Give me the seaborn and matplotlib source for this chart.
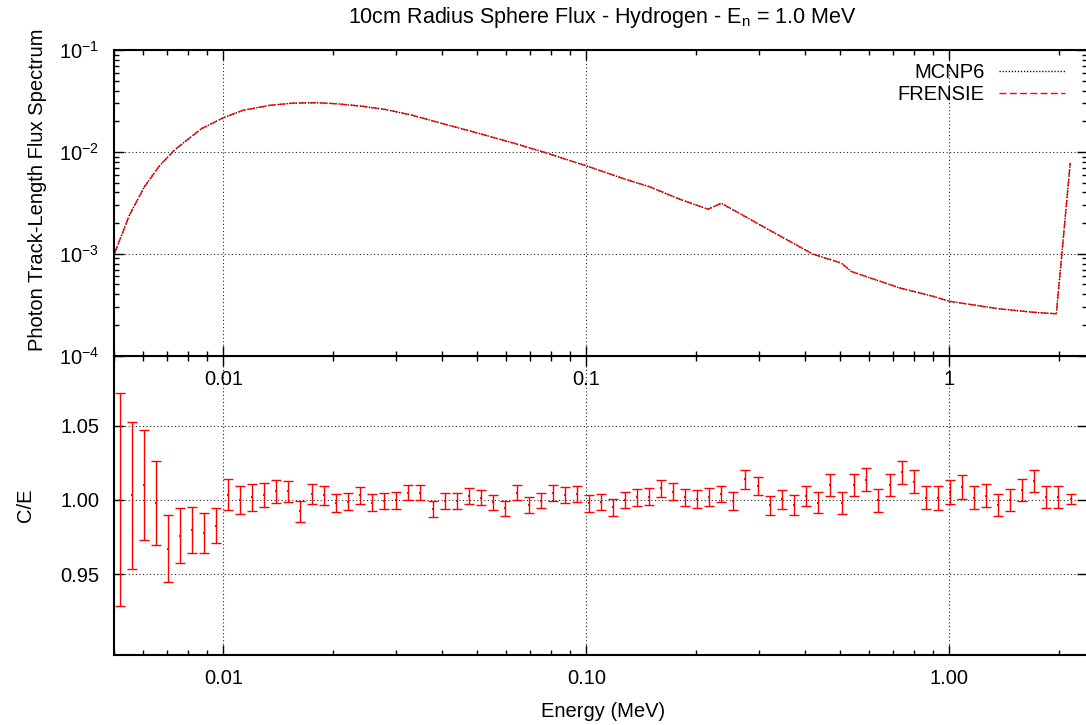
import numpy as np
import pandas as pd
import matplotlib
matplotlib.use("Agg")
import matplotlib.pyplot as plt
import seaborn as sns
from matplotlib.ticker import FixedLocator, FixedFormatter, LogLocator, NullFormatter, NullLocator

# ---------------- data ----------------
flux_energy = [0.00502, 0.005518, 0.006069, 0.006677, 0.007341, 0.008075, 0.00871, 0.0100,
               0.01132, 0.01341, 0.01555, 0.01804, 0.02048, 0.02425,
               0.0281, 0.0330, 0.04113, 0.0508, 0.0628, 0.0760, 0.1000, 0.1259, 0.1494,
               0.1810, 0.2163, 0.2355, 0.2644, 0.3130, 0.4210, 0.5040, 0.5370, 0.5900,
               0.7300, 0.9015, 1.000, 1.376, 1.700, 1.972, 2.154]
mcnp6_flux = [1.016e-3, 2.41e-3, 4.57e-3, 7.33e-3, 1.045e-2, 1.368e-2, 1.69e-2, 2.16e-2,
              2.56e-2, 2.86e-2, 3.01e-2, 3.04e-2, 2.97e-2, 2.80e-2,
              2.60e-2, 2.30e-2, 1.854e-2, 1.513e-2, 1.225e-2, 1.00e-2, 7.30e-3, 5.50e-3,
              4.55e-3, 3.43e-3, 2.74e-3, 3.13e-3, 2.49e-3, 1.78e-3, 9.93e-4, 8.11e-4,
              6.71e-4, 5.98e-4, 4.62e-4, 3.83e-4, 3.42e-4, 2.88e-4, 2.67e-4, 2.58e-4,
              7.81e-3]
frensie_flux = [1.016e-3, 2.41e-3, 4.57e-3, 7.33e-3, 1.045e-2, 1.368e-2, 1.69e-2, 2.16e-2,
                2.56e-2, 2.86e-2, 3.01e-2, 3.04e-2, 2.97e-2, 2.80e-2,
                2.60e-2, 2.30e-2, 1.854e-2, 1.513e-2, 1.225e-2, 1.00e-2, 7.30e-3, 5.50e-3,
                4.55e-3, 3.43e-3, 2.74e-3, 3.13e-3, 2.49e-3, 1.78e-3, 9.93e-4, 8.11e-4,
                6.71e-4, 5.98e-4, 4.62e-4, 3.83e-4, 3.42e-4, 2.88e-4, 2.67e-4, 2.58e-4,
                7.81e-3]

ce_energy = [0.005180, 0.005591, 0.006035, 0.006515, 0.007031, 0.007590, 0.008191, 0.008842, 0.009541, 0.01030,
             0.01112, 0.01200, 0.01295, 0.01398, 0.01508, 0.01628, 0.01757, 0.01897, 0.02047, 0.02210,
             0.02385, 0.02574, 0.02778, 0.02999, 0.03237, 0.03493, 0.03771, 0.04070, 0.04393, 0.04742,
             0.05118, 0.05524, 0.05963, 0.06436, 0.06947, 0.07499, 0.08094, 0.08736, 0.09428, 0.1017,
             0.1098, 0.1185, 0.1279, 0.1381, 0.1490, 0.1608, 0.1736, 0.1874, 0.2023, 0.2183,
             0.2356, 0.2543, 0.2745, 0.2963, 0.3198, 0.3452, 0.3726, 0.4021, 0.4340, 0.4685,
             0.5057, 0.5458, 0.5891, 0.6359, 0.6863, 0.7408, 0.7996, 0.8630, 0.9315, 1.005,
             1.085, 1.171, 1.264, 1.365, 1.473, 1.590, 1.716, 1.852, 1.999, 2.158]
ce_ratio = [1.0002, 1.0031, 1.0099, 0.9978, 0.9673, 0.9758, 0.9798, 0.9780, 0.9827, 1.0036,
            1.0000, 1.0018, 1.0034, 1.0058, 1.0058, 0.9924, 1.0040, 1.0031, 0.9980, 0.9989,
            1.0031, 0.9982, 0.9991, 0.9998, 1.0049, 1.0049, 0.9942, 0.9993, 0.9993, 1.0025,
            1.0016, 0.9984, 0.9944, 1.0049, 0.9966, 0.9996, 1.0045, 1.0031, 1.0038, 0.9978,
            0.9989, 0.9951, 1.0002, 1.0018, 1.0022, 1.0078, 1.0056, 1.0018, 1.0007, 1.0018,
            1.0040, 0.9996, 1.0139, 1.0094, 0.9966, 1.0004, 0.9966, 1.0027, 0.9980, 1.0099,
            0.9980, 1.0099, 1.0137, 0.9998, 1.0101, 1.0186, 1.0123, 1.0016, 1.0011, 1.0056,
            1.0087, 1.0016, 1.0029, 0.9966, 1.0002, 1.0067, 1.0128, 1.0020, 1.0020, 1.0004]
ce_error = [0.0715, 0.0496, 0.0370, 0.0281, 0.0223, 0.0185, 0.0155, 0.0135, 0.0119, 0.0105,
            0.0096, 0.0089, 0.0083, 0.0077, 0.0072, 0.0070, 0.0066, 0.0063, 0.0061, 0.0058,
            0.0056, 0.0055, 0.0055, 0.0056, 0.0052, 0.0052, 0.0054, 0.0053, 0.0053, 0.0053,
            0.0053, 0.0052, 0.0052, 0.0052, 0.0052, 0.0053, 0.0053, 0.0054, 0.0055, 0.0056,
            0.0054, 0.0056, 0.0055, 0.0056, 0.0057, 0.0057, 0.0059, 0.0059, 0.0059, 0.0061,
            0.0057, 0.0061, 0.0062, 0.0063, 0.0064, 0.0065, 0.0068, 0.0068, 0.0071, 0.0073,
            0.0074, 0.0075, 0.0075, 0.0076, 0.0077, 0.0078, 0.0078, 0.0078, 0.0080, 0.0081,
            0.0081, 0.0080, 0.0077, 0.0077, 0.0075, 0.0075, 0.0073, 0.0071, 0.0071, 0.0033]

x_tick_vals = [0.01, 0.1, 1.0]
top_xtick_labels = ["0.01", "0.1", "1"]
bottom_xtick_labels = ["0.01", "0.10", "1.00"]
top_ytick_vals = [1e-4, 1e-3, 1e-2, 1e-1]
top_ytick_labels = [r"$\mathregular{10^{-4}}$", r"$\mathregular{10^{-3}}$",
                    r"$\mathregular{10^{-2}}$", r"$\mathregular{10^{-1}}$"]
ce_ytick_vals = [0.95, 1.00, 1.05]
ce_ytick_labels = ["0.95", "1.00", "1.05"]

title_text = r"10cm Radius Sphere Flux - Hydrogen - E$_\mathregular{n}$ = 1.0 MeV"

# ---------------- style ----------------
sns.set_theme(style="ticks")
FS = 14.5
plt.rcParams.update({
    "font.family": ["Liberation Sans", "DejaVu Sans"],
    "mathtext.fontset": "custom",
    "mathtext.rm": "Liberation Sans",
    "mathtext.it": "Liberation Sans:italic",
    "mathtext.bf": "Liberation Sans:bold",
    "axes.unicode_minus": False,
    "font.size": FS,
    "text.color": "black",
    "axes.labelcolor": "black",
    "xtick.color": "black",
    "ytick.color": "black",
    "axes.edgecolor": "black",
})

W, H = 1086, 725
fig = plt.figure(figsize=(W / 100, H / 100), dpi=100)


def rect(l, t, r, b):
    return [l / W, 1 - b / H, (r - l) / W, (b - t) / H]


ax1 = fig.add_axes(rect(114, 50, 1087.3, 355.7))
ax2 = fig.add_axes(rect(114, 355.7, 1087.3, 654.5))
ax1.set_zorder(3)
ax2.set_zorder(1)

grid_kw = dict(color="black", linestyle=(0, (1, 2.2)), linewidth=0.8, alpha=0.85)

# ---------------- top panel ----------------
ax1.set_xscale("log")
ax1.set_yscale("log")
df_flux = pd.DataFrame({"E": flux_energy, "MCNP6": mcnp6_flux, "FRENSIE": frensie_flux})
sns.lineplot(data=df_flux, x="E", y="MCNP6", ax=ax1, color="black", linewidth=1.0,
             linestyle=(0, (0.9, 1.3)), label="MCNP6", sort=False, estimator=None)
sns.lineplot(data=df_flux, x="E", y="FRENSIE", ax=ax1, color="red", linewidth=1.0,
             linestyle=(0, (5, 2.4)), label="FRENSIE", sort=False, estimator=None)
ax1.set_xlim(0.005, 2.4)
ax1.set_ylim(1e-4, 1e-1)
ax1.xaxis.set_major_locator(FixedLocator(x_tick_vals))
ax1.xaxis.set_major_formatter(FixedFormatter(top_xtick_labels))
ax1.xaxis.set_minor_locator(LogLocator(base=10, subs=np.arange(2, 10)))
ax1.xaxis.set_minor_formatter(NullFormatter())
ax1.yaxis.set_major_locator(FixedLocator(top_ytick_vals))
ax1.yaxis.set_major_formatter(FixedFormatter(top_ytick_labels))
ax1.yaxis.set_minor_locator(LogLocator(base=10, subs=np.arange(2, 10)))
ax1.yaxis.set_minor_formatter(NullFormatter())
ax1.set_xlabel("")
ax1.set_ylabel("")
ax1.grid(True, which="major", **grid_kw)
ax1.set_axisbelow(True)

leg = ax1.legend(loc="upper right", bbox_to_anchor=(0.9771, 0.956), frameon=False,
                 markerfirst=False, handlelength=3.26, handletextpad=0.74,
                 labelspacing=0.15, borderpad=0, borderaxespad=0, fontsize=FS)

# ---------------- bottom panel ----------------
ax2.set_xscale("log")
ax2.errorbar(ce_energy, ce_ratio, yerr=ce_error, fmt="none", ecolor="red",
             elinewidth=1.0, capsize=3.4, capthick=1.0)
sns.scatterplot(x=ce_energy, y=ce_ratio, ax=ax2, color="red", marker="s", s=4,
                linewidth=0, zorder=3)
ax2.set_xlim(0.005, 2.4)
ax2.set_ylim(0.896, 1.0971)
ax2.xaxis.set_major_locator(FixedLocator(x_tick_vals))
ax2.xaxis.set_major_formatter(FixedFormatter(bottom_xtick_labels))
ax2.xaxis.set_minor_locator(LogLocator(base=10, subs=np.arange(2, 10)))
ax2.xaxis.set_minor_formatter(NullFormatter())
ax2.yaxis.set_major_locator(FixedLocator(ce_ytick_vals))
ax2.yaxis.set_major_formatter(FixedFormatter(ce_ytick_labels))
ax2.yaxis.set_minor_locator(NullLocator())
ax2.set_xlabel("")
ax2.set_ylabel("")
ax2.grid(True, which="major", **grid_kw)
ax2.set_axisbelow(True)

for ax in (ax1, ax2):
    ax.tick_params(which="both", direction="in", top=True, right=True, width=1.0)
    ax.tick_params(which="major", length=7.5, pad=10.5, labelsize=FS)
    ax.tick_params(which="minor", length=3.5)
    for s in ax.spines.values():
        s.set_linewidth(1.5)
        s.set_color("black")

# ---------------- texts ----------------
fig.text(602 / W, 1 - 23 / H, title_text, ha="center", va="baseline", fontsize=15.5)
fig.text(43 / W, 1 - 190 / H, "Photon Track-Length Flux Spectrum", rotation=90,
         rotation_mode="anchor", ha="center", va="baseline", fontsize=FS)
fig.text(31 / W, 1 - 505 / H, "C/E", rotation=90, rotation_mode="anchor",
         ha="center", va="baseline", fontsize=FS)
fig.text(603 / W, 1 - 717 / H, "Energy (MeV)", ha="center", va="baseline", fontsize=FS)

fig.savefig("out.png", dpi=100)
